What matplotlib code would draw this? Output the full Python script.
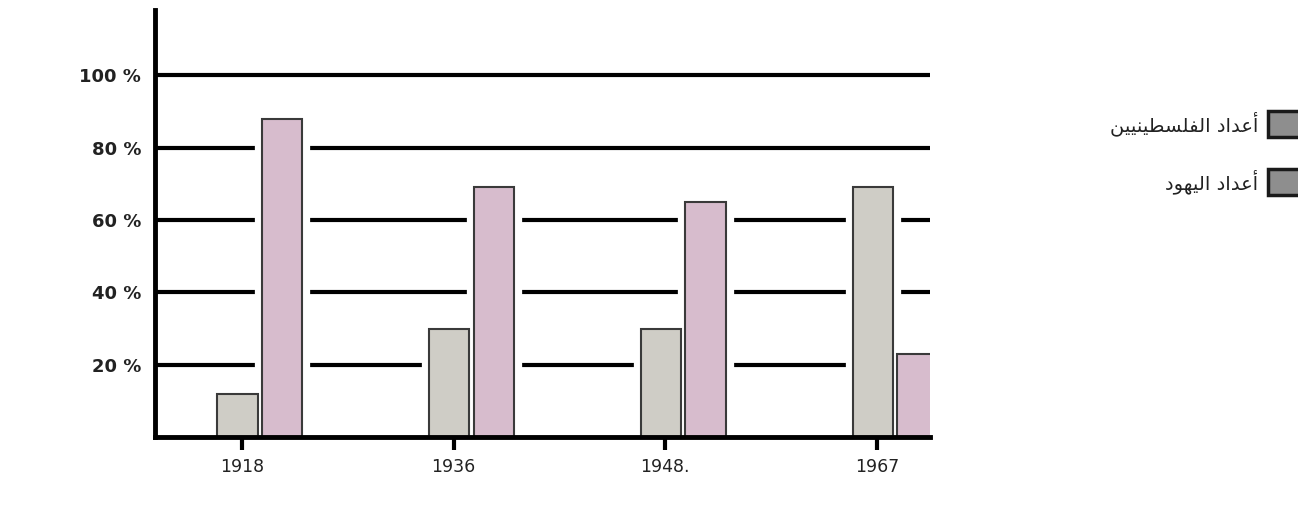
import matplotlib
matplotlib.use("Agg")
import matplotlib.pyplot as plt
from matplotlib.patches import Rectangle
import numpy as np

# data (percent)
years = ["1918", "1936", "1948.", "1967"]
left_vals = [12, 30, 30, 69]     # left bar of each group
right_vals = [88, 69, 65, 23]    # right bar of each group
y_ticks = [20, 40, 60, 80, 100]
y_labels = ["20 %", "40 %", "60 %", "80 %", "100 %"]
legend_labels = ["أعداد الفلسطينيين", "أعداد اليهود"]

# tiny arabic shaper (matplotlib has no bidi / shaping)
FORMS = {
    "ا": ("\uFE8D", "\uFE8E"), "أ": ("\uFE83", "\uFE84"),
    "د": ("\uFEA9", "\uFEAA"), "و": ("\uFEED", "\uFEEE"),
    "ع": ("\uFEC9", "\uFECA", "\uFECB", "\uFECC"),
    "ل": ("\uFEDD", "\uFEDE", "\uFEDF", "\uFEE0"),
    "ف": ("\uFED1", "\uFED2", "\uFED3", "\uFED4"),
    "س": ("\uFEB1", "\uFEB2", "\uFEB3", "\uFEB4"),
    "ط": ("\uFEC1", "\uFEC2", "\uFEC3", "\uFEC4"),
    "ي": ("\uFEF1", "\uFEF2", "\uFEF3", "\uFEF4"),
    "ن": ("\uFEE5", "\uFEE6", "\uFEE7", "\uFEE8"),
    "ه": ("\uFEE9", "\uFEEA", "\uFEEB", "\uFEEC"),
}

def shape(text):
    out = []
    for i, c in enumerate(text):
        if c not in FORMS:
            out.append(c)
            continue
        prev = text[i - 1] if i > 0 else ""
        nxt = text[i + 1] if i + 1 < len(text) else ""
        jp = prev in FORMS and len(FORMS[prev]) == 4
        jn = len(FORMS[c]) == 4 and nxt in FORMS
        f = FORMS[c]
        if jp and jn: out.append(f[3])
        elif jp: out.append(f[1])
        elif jn: out.append(f[2])
        else: out.append(f[0])
    return "".join(out)[::-1]

fig = plt.figure(figsize=(12.98, 5.07), dpi=100)
ax = fig.add_axes([0.1194, 0.138, 0.597, 0.842])

x = np.arange(len(years))
w = 0.19
xl = x - 0.02
xr = x + 0.19
left_col = "#cfcdc6"
right_col = "#d7bccd"

# gridlines
for t in y_ticks:
    ax.axhline(t, color="black", lw=3, zorder=1)

# white halo so gridlines stop short of the bars
ax.bar(xl, left_vals, w, color="white", edgecolor="white", lw=11, zorder=2)
ax.bar(xr, right_vals, w, color="white", edgecolor="white", lw=11, zorder=2)
ax.bar(xl, left_vals, w, color=left_col, edgecolor="#3a3a3a", lw=1.5, zorder=3)
ax.bar(xr, right_vals, w, color=right_col, edgecolor="#3a3a3a", lw=1.5, zorder=3)

ax.set_xlim(-0.41, 3.25)
ax.set_ylim(0, 118)
ax.set_xticks(x)
ax.set_xticklabels(years, fontsize=12.5, color="#222")
ax.set_yticks(y_ticks)
ax.set_yticklabels(y_labels, fontsize=13, fontweight="bold", color="#222")
ax.tick_params(axis="x", direction="out", length=9, width=3, pad=6)
ax.tick_params(axis="y", length=0, pad=10)

for s in ["top", "right"]:
    ax.spines[s].set_visible(False)
for s in ["left", "bottom"]:
    ax.spines[s].set_linewidth(3.5)
    ax.spines[s].set_zorder(5)
ax.spines["bottom"].set_bounds(-0.41, 3.25)

# legend at the right edge
W, H = 1298, 507
for i, lab in enumerate(legend_labels):
    yc = 124 + i * 58
    fig.patches.append(Rectangle((1268 / W, 1 - (yc + 13) / H), 32 / W, 26 / H,
                                 transform=fig.transFigure, facecolor="#8e8e8e",
                                 edgecolor="#1a1a1a", lw=2.5))
    fig.text(1258 / W, 1 - yc / H, shape(lab), ha="right", va="center",
             fontsize=14, color="#222", family=["DejaVu Sans"])

fig.savefig("out.png", dpi=100, facecolor="white")
